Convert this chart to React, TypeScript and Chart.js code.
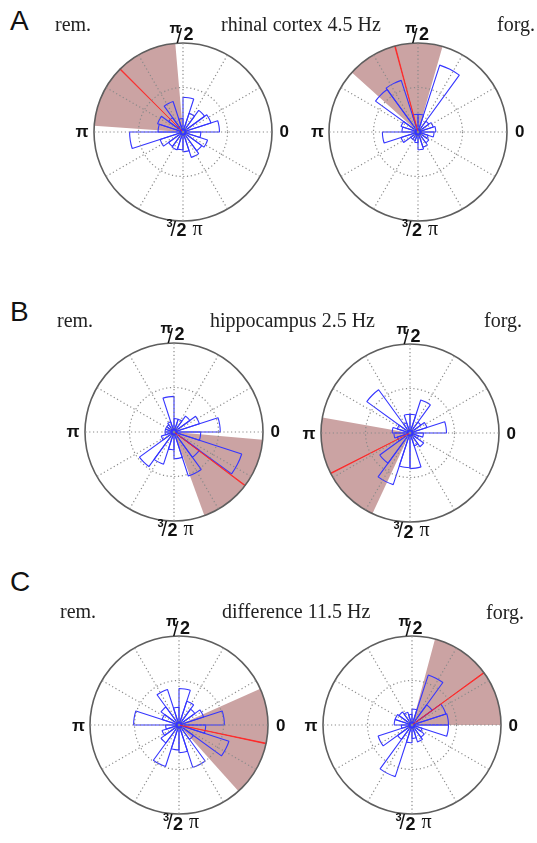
import React, { useEffect, useRef } from "react";
import { Chart, registerables } from "chart.js";

Chart.register(...registerables);

// ---------- data ----------
// radial scale: outer circle = 10, dotted ring = 5
const RMAX = 10;
// 20 rose bins of 18°, listed counter-clockwise starting at 0 rad (bin k covers 18k..18k+18 deg)
const remRhinal = [4.1, 3.3, 3.0, 2.2, 3.9, 1.5, 3.6, 2.0, 3.0, 2.8, 6.0, 2.7, 2.0, 2.1, 2.0, 2.2, 3.0, 2.6, 2.9, 2.0];
const forgRhinal = [2.0, 1.8, 1.5, 7.9, 2.0, 2.0, 6.1, 5.9, 2.0, 1.8, 4.0, 2.0, 1.0, 1.0, 1.2, 2.0, 1.8, 1.5, 1.2, 1.8];
const remHippo = [5.2, 3.0, 2.2, 1.5, 1.5, 4.0, 1.2, 1.0, 1.0, 1.0, 1.0, 1.5, 4.8, 3.8, 2.0, 3.0, 5.2, 3.5, 8.0, 3.0];
const forgHippo = [4.1, 2.0, 1.5, 3.9, 2.1, 2.1, 1.2, 6.0, 1.5, 2.0, 1.8, 1.5, 4.2, 6.1, 3.9, 4.0, 1.5, 1.9, 1.0, 1.5];
const remDiff = [5.1, 2.9, 2.2, 2.8, 4.1, 2.0, 4.2, 2.5, 2.0, 5.1, 1.5, 2.0, 2.5, 4.9, 2.8, 3.1, 5.0, 2.0, 5.9, 3.0];
const forgDiff = [4.1, 4.0, 2.8, 5.9, 1.8, 1.2, 1.5, 1.8, 2.0, 2.0, 1.2, 4.0, 2.0, 6.1, 2.0, 1.5, 2.0, 1.7, 1.2, 4.1];

// confidence sectors [from, to] in degrees (counter-clockwise) and mean phase (degrees)
const remRhinalSector = [95, 176];
const forgRhinalSector = [74, 138];
const remHippoSector = [290, 355];
const forgHippoSector = [170, 245];
const remDiffSector = [312, 24];
const forgDiffSector = [0, 75];
const meanPhases = [135, 105, 323, 207, 348, 36];

// 12 spokes, clockwise from the right (chart.js runs clockwise)
const spokeLabels = ["0", "", "", "3/2 π", "", "", "π", "", "", "π/2", "", ""];

const rowTitles = ["rhinal cortex 4.5 Hz", "hippocampus 2.5 Hz", "difference 11.5 Hz"];
const rowLetters = ["A", "B", "C"];
const conditionLabels = ["rem.", "forg."];

// ---------- styles ----------
const SERIF = '"Liberation Serif", "Times New Roman", serif';
const SANS = '"Liberation Sans", Arial, sans-serif';
const BLUE = "#3535ff";
const RED = "#ff2424";
const SHADE = "rgb(203,163,163)";

function T(props: { x: number; base: number; size: number; family: string; weight?: string; children: any; color?: string }) {
  const k = props.family === SERIF ? 0.8375 : 0.8465;
  return (
    <div
      style={{
        position: "absolute",
        left: props.x,
        top: props.base - k * props.size,
        fontSize: props.size,
        lineHeight: props.size + "px",
        fontFamily: props.family,
        fontWeight: (props.weight || "normal") as any,
        whiteSpace: "nowrap",
        color: props.color || "#111",
      }}
    >
      {props.children}
    </div>
  );
}

function PolarRose(props: { bins: number[]; sector: number[]; mean: number; cx: number; cy: number }) {
  const ref = useRef<HTMLCanvasElement>(null);
  useEffect(() => {
    const toCw = (deg: number) => (((360 - deg) % 360) + 360) % 360;
    const roseData = props.bins.slice().reverse();
    const sWidth = (((props.sector[1] - props.sector[0]) % 360) + 360) % 360;
    const sStart = toCw(props.sector[1]);
    const lineWidthDeg = 0.5;
    const lStart = toCw(props.mean + lineWidthDeg / 2);
    const mk = (start: number, width: number) =>
      start > 0.001 ? { data: [0, RMAX], angles: [start, width] } : { data: [RMAX], angles: [width] };
    const s = mk(sStart, sWidth);
    const l = mk(lStart, lineWidthDeg);
    const chart = new Chart(ref.current as HTMLCanvasElement, {
      type: "polarArea",
      data: {
        labels: spokeLabels,
        datasets: [
          {
            label: "mean",
            data: l.data,
            angle: (c: any) => l.angles[c.dataIndex],
            backgroundColor: RED,
            borderColor: RED,
            borderWidth: 0.7,
          } as any,
          {
            label: "rose",
            data: roseData,
            backgroundColor: "rgba(0,0,0,0)",
            borderColor: BLUE,
            borderWidth: 1.1,
          },
          {
            label: "sector",
            data: s.data,
            angle: (c: any) => s.angles[c.dataIndex],
            backgroundColor: SHADE,
            borderColor: "rgba(0,0,0,0)",
            borderWidth: 0,
          } as any,
        ],
      },
      options: {
        responsive: false,
        animation: false,
        events: [],
        layout: { padding: 11 },
        plugins: { legend: { display: false }, tooltip: { enabled: false } },
        scales: {
          r: {
            min: 0,
            max: RMAX,
            startAngle: 90,
            ticks: { display: false, stepSize: RMAX / 2 },
            grid: {
              circular: true,
              z: 1,
              color: (c: any) => (c.index === 2 ? "#5e5e5e" : "#8a8a8a"),
              lineWidth: (c: any) => (c.index === 2 ? 1.6 : 1.2),
            },
            border: { dash: (c: any) => (c.index === 2 ? [] : [1.2, 2.6]) } as any,
            angleLines: { display: true, color: "#8a8a8a", lineWidth: 1.2, borderDash: [1.2, 2.6] },
            pointLabels: { display: false },
          },
        },
      } as any,
    });
    return () => chart.destroy();
  }, []);
  return (
    <canvas
      ref={ref}
      width={200}
      height={200}
      style={{ position: "absolute", left: props.cx - 100, top: props.cy - 100, width: 200, height: 200 }}
    />
  );
}

function AxisLabels(props: { cx: number; cy: number }) {
  const { cx, cy } = props;
  return (
    <>
      {/* 0 */}
      <T x={cx + 97} base={cy + 6} size={17} family={SANS} weight="bold">{spokeLabels[0]}</T>
      {/* π */}
      <T x={cx - 107} base={cy + 6} size={17} family={SANS} weight="bold">{spokeLabels[6]}</T>
      {/* π/2 */}
      <T x={cx - 13} base={cy - 99} size={15} family={SANS} weight="bold">π</T>
      <T x={cx - 6} base={cy - 89} size={20} family={SANS}>/</T>
      <T x={cx + 1} base={cy - 91} size={18} family={SANS} weight="bold">2</T>
      {/* 3/2 π */}
      <T x={cx - 16} base={cy + 96} size={11} family={SANS} weight="bold">3</T>
      <T x={cx - 12} base={cy + 104} size={20} family={SANS}>/</T>
      <T x={cx - 6} base={cy + 105} size={18} family={SANS} weight="bold">2</T>
      <T x={cx + 10} base={cy + 103} size={20} family={SERIF}>π</T>
    </>
  );
}

const panels = [
  { bins: remRhinal, sector: remRhinalSector, mean: meanPhases[0], cx: 182.5, cy: 131.5 },
  { bins: forgRhinal, sector: forgRhinalSector, mean: meanPhases[1], cx: 418, cy: 131.5 },
  { bins: remHippo, sector: remHippoSector, mean: meanPhases[2], cx: 173.5, cy: 431.5 },
  { bins: forgHippo, sector: forgHippoSector, mean: meanPhases[3], cx: 409.5, cy: 433 },
  { bins: remDiff, sector: remDiffSector, mean: meanPhases[4], cx: 179, cy: 725 },
  { bins: forgDiff, sector: forgDiffSector, mean: meanPhases[5], cx: 411.5, cy: 725 },
];

const rows = [
  { letterBase: 31, textBase: 31, remX: 55, titleX: 221, forgX: 497, forgBase: 31 },
  { letterBase: 322, textBase: 327, remX: 57, titleX: 210, forgX: 484, forgBase: 327 },
  { letterBase: 592, textBase: 618, remX: 60, titleX: 222, forgX: 486, forgBase: 619 },
];

export default function App() {
  return (
    <div style={{ position: "absolute", left: 0, top: 0, width: 537, height: 843, background: "#fff", overflow: "hidden" }}>
      {panels.map((p, i) => (
        <PolarRose key={i} bins={p.bins} sector={p.sector} mean={p.mean} cx={p.cx} cy={p.cy} />
      ))}
      {panels.map((p, i) => (
        <AxisLabels key={"l" + i} cx={p.cx} cy={p.cy} />
      ))}
      {rows.map((r, i) => (
        <React.Fragment key={"r" + i}>
          <T x={10} base={r.letterBase} size={28} family={SANS}>{rowLetters[i]}</T>
          <T x={r.remX} base={r.textBase} size={20} family={SERIF} color="#222">{conditionLabels[0]}</T>
          <T x={r.titleX} base={r.textBase} size={20} family={SERIF} color="#222">{rowTitles[i]}</T>
          <T x={r.forgX} base={r.forgBase} size={20} family={SERIF} color="#222">{conditionLabels[1]}</T>
        </React.Fragment>
      ))}
    </div>
  );
}
